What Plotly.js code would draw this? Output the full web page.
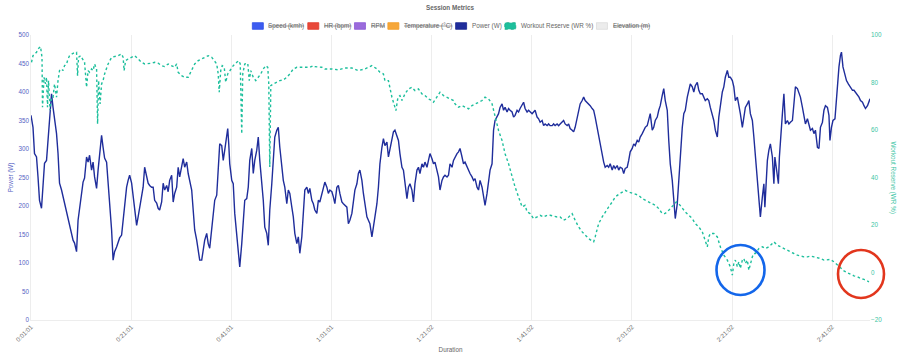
<!DOCTYPE html>
<html>
<head>
<meta charset="utf-8">
<script src="https://cdn.plot.ly/plotly-3.0.1.min.js"></script>
<style>html,body{margin:0;padding:0;background:#fff;}#chart{width:900px;height:357px;}</style>
</head>
<body>
<div id="chart"></div>
<script>
// ---------- DATA ----------
const chartTitle = 'Session Metrics';
const legendLabels = ['Speed (kmh)', 'HR (bpm)', 'RPM', 'Temperature (°C)', 'Power (W)', 'Workout Reserve (WR %)', 'Elevation (m)'];
const legendHidden = [true, true, true, true, false, false, true];
const xTickVals = [1.017, 21.017, 41.017, 61.017, 81.033, 101.033, 121.033, 141.033, 161.033];
const xTickText = ['0:01:01', '0:21:01', '0:41:01', '1:01:01', '1:21:02', '1:41:02', '2:01:02', '2:21:02', '2:41:02'];

// elapsed minutes / watts
const powerTime = [1.0,1.4,1.7,2.1,2.4,2.7,3.1,3.4,3.7,4.1,4.4,4.7,5.1,5.4,5.7,6.1,6.4,6.7,7.1,7.4,7.7,8.1,8.4,8.7,9.1,9.4,9.7,10.1,10.4,10.7,11.1,11.4,11.7,12.1,12.4,12.7,13.1,13.4,13.7,14.1,14.4,14.7,15.1,15.4,15.7,16.1,16.4,16.7,17.1,17.4,17.7,18.1,18.4,18.7,19.1,19.4,19.7,20.1,20.4,20.7,21.1,21.4,21.7,22.1,22.4,22.7,23.1,23.4,23.7,24.1,24.4,24.7,25.1,25.4,25.7,26.1,26.4,26.7,27.1,27.4,27.7,28.1,28.4,28.7,29.1,29.4,29.7,30.1,30.4,30.7,31.1,31.4,31.7,32.1,32.4,32.7,33.1,33.4,33.7,34.1,34.4,34.7,35.1,35.4,35.7,36.1,36.4,36.7,37.1,37.4,37.7,38.1,38.4,38.7,39.1,39.4,39.7,40.1,40.3,40.5,40.7,41.1,41.4,41.7,42.1,42.4,42.7,43.1,43.4,43.7,44.1,44.4,44.7,45.1,45.4,45.7,46.1,46.4,46.7,47.1,47.4,47.7,48.1,48.4,48.7,49.1,49.4,49.7,50.1,50.4,50.7,51.1,51.4,51.7,52.1,52.4,52.7,53.1,53.4,53.7,54.1,54.4,54.7,55.1,55.4,55.7,56.1,56.4,56.7,57.1,57.4,57.7,58.1,58.4,58.7,59.1,59.4,59.7,60.1,60.4,60.7,61.1,61.4,61.7,62.1,62.4,62.7,63.1,63.4,63.7,64.1,64.4,64.7,65.1,65.4,65.7,66.1,66.4,66.7,67.1,67.4,67.7,68.1,68.4,68.7,69.1,69.4,69.7,70.1,70.4,70.7,71.1,71.4,71.7,72.1,72.4,72.7,73.1,73.4,73.7,74.1,74.4,74.7,75.1,75.4,75.7,76.1,76.4,76.7,77.1,77.4,77.7,78.1,78.4,78.7,79.1,79.4,79.7,80.1,80.4,80.7,81.1,81.4,81.7,82.1,82.4,82.7,83.1,83.4,83.7,84.1,84.4,84.7,85.1,85.4,85.7,86.1,86.4,86.7,87.1,87.4,87.7,88.1,88.4,88.7,89.1,89.4,89.7,90.1,90.4,90.7,91.1,91.4,91.7,92.1,92.4,92.7,93.1,93.4,93.7,94.1,94.4,94.7,95.1,95.4,95.7,96.1,96.4,96.7,97.1,97.4,97.7,98.1,98.4,98.7,99.1,99.4,99.7,100.1,100.4,100.7,101.1,101.4,101.7,102.1,102.4,102.7,103.1,103.4,103.7,104.1,104.4,104.7,105.1,105.4,105.7,106.1,106.4,106.7,107.1,107.4,107.7,108.1,108.4,108.7,109.1,109.4,109.7,110.1,110.4,110.7,111.1,111.4,111.7,112.1,112.4,112.7,113.1,113.4,113.7,114.1,114.4,114.7,115.1,115.4,115.7,116.1,116.4,116.7,117.1,117.4,117.7,118.1,118.4,118.7,119.1,119.4,119.7,120.1,120.4,120.7,121.1,121.4,121.7,122.1,122.4,122.7,123.1,123.4,123.7,124.1,124.4,124.7,125.1,125.4,125.7,126.1,126.4,126.7,127.1,127.4,127.7,128.1,128.4,128.7,129.1,129.4,129.7,130.1,130.4,130.7,131.1,131.4,131.7,132.1,132.4,132.7,133.1,133.4,133.7,134.1,134.4,134.7,135.1,135.4,135.7,136.1,136.4,136.7,137.1,137.4,137.7,138.1,138.4,138.7,139.1,139.4,139.7,140.1,140.4,140.7,141.1,141.4,141.7,142.1,142.4,142.7,143.1,143.4,143.7,144.1,144.4,144.7,145.1,145.4,145.6,145.9,146.1,146.4,146.7,147.1,147.4,147.6,147.9,148.1,148.4,148.7,149.1,149.4,149.6,149.9,150.3,150.5,150.8,151.1,151.4,151.7,152.1,152.4,152.7,153.1,153.4,153.7,154.1,154.4,154.7,155.1,155.4,155.7,156.1,156.4,156.7,157.1,157.4,157.7,158.1,158.4,158.7,159.1,159.4,159.7,160.1,160.4,160.6,160.9,161.2,161.6,161.9,162.1,162.4,162.7,162.9,163.2,163.5,163.9,164.3,164.7,165.1,165.4,165.7,166.1,166.4,166.7,167.1,167.4,167.7,168.1,168.4,168.6];
const powerW = [359,338,292,286,251,210,196,228,275,280,321,356,397,373,350,327,292,240,228,216,205,187,175,163,146,140,135,120,175,196,222,242,249,286,277,289,263,277,251,231,263,286,324,303,284,277,245,210,158,105,120,128,137,144,149,175,205,233,245,254,240,216,193,166,181,198,216,233,268,251,240,236,233,233,210,205,196,193,207,240,228,236,225,245,254,207,222,233,268,251,274,283,268,277,257,245,228,193,158,140,123,105,105,128,140,152,134,126,158,181,210,219,274,309,306,280,298,321,336,309,274,245,239,187,146,111,93,134,181,210,213,233,280,301,257,280,298,321,280,245,210,163,152,131,193,239,280,321,333,338,303,263,245,233,204,228,222,198,181,152,134,146,117,146,181,228,233,222,231,210,204,193,187,210,207,222,236,242,233,222,228,225,216,204,233,236,222,207,204,201,198,169,175,187,207,228,239,257,263,245,222,204,181,175,169,146,163,181,204,233,274,303,318,306,312,286,298,315,330,333,321,315,292,268,263,239,213,233,239,228,207,239,263,268,257,274,268,277,268,280,292,283,274,277,263,251,228,245,251,254,251,254,274,268,280,286,292,295,301,286,274,277,268,263,257,251,245,248,233,228,245,233,216,201,222,239,263,274,333,350,356,362,373,379,368,373,365,371,368,365,356,359,368,365,371,376,382,371,365,368,365,362,365,368,356,353,347,350,341,344,341,344,341,341,344,341,344,341,344,347,350,344,341,344,336,333,330,338,356,368,379,385,391,385,382,379,376,371,368,356,338,321,306,289,277,268,271,268,274,263,271,266,271,263,268,266,257,266,268,280,295,301,309,306,315,312,321,327,333,338,341,350,362,333,338,350,356,368,376,394,406,385,368,315,274,245,204,178,204,245,292,338,362,368,391,406,414,409,400,411,417,403,397,397,391,385,388,385,373,362,350,333,321,356,379,400,409,426,438,426,426,420,409,385,391,379,362,338,356,373,379,385,362,350,321,298,263,257,216,181,216,239,198,251,280,298,309,286,239,286,263,239,286,333,362,397,344,350,344,347,350,379,409,406,400,391,373,356,344,353,341,333,336,327,333,303,301,338,347,368,376,373,359,315,338,350,353,391,420,444,464,470,444,432,420,414,409,403,403,400,394,391,385,382,376,371,376,382,388];

// elapsed minutes / workout reserve %
const wrTime = [1.1,1.4,1.7,2.1,2.4,2.9,3.2,3.3,3.6,3.9,4.1,4.3,4.5,4.8,5.1,5.4,5.7,6.1,6.4,6.7,7.1,7.4,7.7,8.1,8.4,8.7,9.4,10.1,10.3,10.5,10.9,11.4,11.7,12.1,12.4,12.7,13.1,13.4,13.7,14.1,14.3,14.5,14.8,15.1,15.4,15.7,16.4,17.1,17.7,18.4,19.1,19.4,19.6,19.9,20.4,21.1,21.7,22.4,23.1,23.7,24.4,25.1,25.7,26.4,27.1,27.7,28.4,29.1,29.7,30.1,30.4,31.1,31.7,32.4,33.1,33.7,34.4,35.1,35.7,36.4,37.1,37.7,38.1,38.4,38.6,38.9,39.2,39.6,39.9,40.3,40.7,41.4,42.1,42.5,42.8,43.1,43.3,43.7,44.3,44.6,44.9,45.4,45.9,46.4,46.9,47.4,47.9,48.3,48.5,48.7,48.9,49.4,50.1,50.7,51.4,52.1,52.7,53.4,54.1,54.7,55.4,56.1,56.7,57.4,57.7,59.1,59.7,61.1,62.4,63.7,65.1,66.4,67.7,69.1,70.1,70.7,71.4,71.7,72.4,73.1,73.4,73.9,74.3,74.7,75.1,75.7,76.4,77.1,77.7,78.4,79.1,79.7,80.4,81.1,81.4,82.1,82.7,83.4,84.1,84.7,85.4,85.7,86.4,87.1,87.7,88.4,89.1,89.7,90.4,91.1,91.7,92.4,93.1,93.7,94.4,95.1,95.7,96.4,97.1,97.7,98.4,99.1,99.7,100.1,100.7,101.4,102.1,102.7,103.4,104.1,104.7,105.4,106.1,106.7,107.4,108.1,108.7,109.1,109.7,110.4,111.1,111.7,112.4,113.1,113.4,113.7,114.1,114.4,115.1,115.7,116.4,117.1,117.7,118.4,119.1,119.7,120.4,121.1,121.7,122.4,123.1,123.7,124.4,125.1,125.7,126.4,127.1,127.6,128.1,128.7,129.4,129.9,130.4,131.1,131.7,132.4,133.1,133.7,134.4,135.1,135.6,136.1,136.4,136.7,137.4,138.1,138.7,139.4,140.1,140.7,141.1,141.4,141.7,142.1,142.4,142.7,143.1,143.4,143.7,144.1,144.4,144.7,145.1,145.4,145.7,146.4,147.1,147.7,148.4,149.1,149.4,150.1,150.7,151.4,152.1,152.7,153.4,154.1,154.7,155.4,156.1,156.7,157.4,158.1,158.7,159.4,160.1,160.7,161.4,162.1,162.7,163.4,164.1,164.7,165.4,166.1,166.7,167.4,168.1,168.4];
const wrPct = [88.5,91.3,92.0,92.7,94.1,95.1,90.6,69.6,82.2,79.4,82.2,69.6,80.8,68.3,73.8,73.8,79.4,73.8,80.8,85.0,85.7,85.0,87.1,87.8,89.9,91.3,92.3,92.7,82.9,90.6,91.3,89.2,88.5,78.0,85.0,84.3,85.7,85.0,87.8,85.7,62.6,80.8,71.0,79.4,80.8,83.6,87.8,90.6,90.9,91.3,92.0,90.6,85.0,89.2,89.9,90.6,91.3,89.9,88.5,87.8,87.8,88.1,88.5,88.1,87.1,86.7,87.8,87.1,86.4,87.8,84.3,82.9,82.2,82.2,85.0,87.8,89.2,89.9,90.6,91.3,90.6,89.2,87.8,83.6,75.9,85.0,87.1,86.4,80.1,83.6,85.0,87.1,88.5,89.2,87.8,58.4,83.6,87.8,88.1,80.8,85.0,82.2,80.8,82.2,83.6,85.7,87.1,86.4,79.4,44.4,78.7,79.4,80.1,80.8,81.1,82.2,83.6,85.7,86.4,86.4,86.1,86.4,86.4,87.1,86.7,86.4,85.7,85.7,85.3,86.1,86.1,85.0,85.7,87.1,85.7,84.3,83.6,80.8,80.8,73.8,71.7,68.2,73.8,74.5,72.4,75.2,77.3,78.0,76.6,77.3,75.2,74.5,73.1,72.4,71.7,73.8,75.9,74.5,73.8,73.1,72.4,71.0,69.6,70.3,69.6,68.9,70.3,71.0,71.7,72.4,73.8,73.1,71.0,65.4,59.8,55.6,50.0,45.8,40.2,36.0,31.8,27.6,28.3,25.5,24.8,22.7,23.4,24.1,23.4,24.1,24.1,23.7,23.4,23.4,22.0,22.7,24.1,24.8,22.0,19.2,17.1,15.7,14.3,13.2,12.9,15.0,17.8,20.6,23.4,25.5,27.6,29.7,31.8,32.9,33.9,34.6,33.9,33.5,33.2,32.5,31.1,30.4,29.7,29.0,28.3,26.9,24.8,24.8,25.5,26.9,28.3,29.7,29.0,26.9,25.5,24.1,22.7,20.6,19.2,17.1,13.6,10.8,15.0,16.4,16.4,15.0,10.8,7.3,5.2,2.4,-1.1,3.8,5.2,2.4,4.5,1.7,5.2,5.9,3.8,5.2,1.0,3.8,6.6,8.0,8.0,10.1,10.8,10.1,10.8,12.2,12.9,11.5,10.8,10.1,9.4,8.7,8.0,7.3,6.9,6.6,6.6,6.9,6.6,6.3,5.9,5.2,5.5,5.5,4.5,3.1,1.7,0.7,-0.1,-0.8,-1.4,-1.8,-2.5,-2.9,-3.5,-3.9];

// ---------- STYLE ----------
const FONT = '"Liberation Sans", Arial, Helvetica, sans-serif';
const FS = 6.3;
const style = {
  legendFill: ['#3d5cf0', '#e8493a', '#9a6bdc', '#f6a73a', '#1f2d9b', '#1dbf9c', '#ececec'],
  legendLine: ['#2f4fe6', '#e03b2c', '#8b5bd6', '#f39c26', '#1a2790', '#15a887', '#dcdcdc'],
  power: '#1f2d9b',
  wr: '#1dbf9c',
  leftTick: '#5563c4',
  rightTick: '#3cc5a4',
  grid: '#e8e8e8',
  text: '#666666'
};

// plot box in page pixels (for overlay placement only)
const PL = 31, PR = 870, PT = 35, PB = 320;
const px2x = p => (p - PL) / (PR - PL);
const px2y = p => (PB - p) / (PB - PT);

// ---------- legend (Chart.js-like, centered) ----------
const cv = document.createElement('canvas').getContext('2d');
cv.font = FS + 'px "Liberation Sans"';
const boxW = 11, boxH = 6.6, boxGap = 3.1, itemPad = 5.3, legendY = 26;
const widths = legendLabels.map(t => boxW + boxGap + cv.measureText(t).width);
const total = widths.reduce((a, b) => a + b, 0) + itemPad * (legendLabels.length - 1);
let cx = 450 - total / 2;
const shapes = [];
const annotations = [];
legendLabels.forEach((lab, i) => {
  shapes.push({
    type: 'rect', xref: 'paper', yref: 'paper',
    x0: px2x(cx), x1: px2x(cx + boxW), y0: px2y(legendY + boxH / 2), y1: px2y(legendY - boxH / 2),
    fillcolor: style.legendFill[i], line: {color: style.legendLine[i], width: 0.8, dash: i === 5 ? 'dot' : 'solid'}
  });
  const f = {family: FONT, size: FS, color: style.text};
  if (legendHidden[i]) f.lineposition = 'through';
  annotations.push({
    xref: 'paper', yref: 'paper', x: px2x(cx + boxW + boxGap), y: px2y(legendY),
    xanchor: 'left', yanchor: 'middle', showarrow: false, text: lab, font: f
  });
  cx += widths[i] + itemPad;
});

// right axis title (reads top to bottom)
annotations.push({
  xref: 'paper', yref: 'paper', x: px2x(893), y: 0.5, textangle: 90, showarrow: false,
  xanchor: 'center', yanchor: 'middle', text: 'Workout Reserve (WR %)',
  font: {family: FONT, size: FS, color: style.rightTick}
});

// highlight circles
shapes.push({type: 'circle', xref: 'paper', yref: 'paper',
  x0: px2x(716.5), x1: px2x(764.5), y0: px2y(295), y1: px2y(245),
  line: {color: '#1366ea', width: 2.6}});
shapes.push({type: 'circle', xref: 'paper', yref: 'paper',
  x0: px2x(838), x1: px2x(884), y0: px2y(298), y1: px2y(250),
  line: {color: '#e2361d', width: 2.6}});

// ---------- traces ----------
const traces = [
  {x: powerTime, y: powerW, type: 'scatter', mode: 'lines', name: 'Power (W)', yaxis: 'y',
   line: {color: style.power, width: 1.4}, showlegend: false, hoverinfo: 'skip'},
  {x: wrTime, y: wrPct, type: 'scatter', mode: 'lines', name: 'Workout Reserve (WR %)', yaxis: 'y2',
   line: {color: style.wr, width: 1.4, dash: '2.6px,2.6px'}, showlegend: false, hoverinfo: 'skip'}
];

const layout = {
  width: 900, height: 357,
  margin: {l: PL, r: 900 - PR, t: PT, b: 357 - PB, pad: 0},
  paper_bgcolor: '#ffffff', plot_bgcolor: '#ffffff',
  showlegend: false,
  font: {family: FONT, size: FS, color: style.text},
  title: {text: '<b>' + chartTitle + '</b>', x: 0.5, xanchor: 'center', y: 1 - 8 / 357, yref: 'container', yanchor: 'middle',
          font: {family: FONT, size: FS, color: style.text}},
  xaxis: {
    range: [1.0, 168.6], tickmode: 'array', tickvals: xTickVals, ticktext: xTickText, tickangle: -45,
    showgrid: true, gridcolor: style.grid, gridwidth: 0.8, zeroline: false,
    showline: true, linecolor: style.grid, linewidth: 0.8, ticks: '', automargin: false,
    tickfont: {family: FONT, size: FS, color: style.text},
    title: {text: 'Duration', font: {family: FONT, size: FS, color: style.text}, standoff: 5}
  },
  yaxis: {
    range: [0, 500], dtick: 50, showgrid: false, zeroline: false,
    showline: true, linecolor: style.grid, linewidth: 0.8, ticks: '', automargin: false,
    tickfont: {family: FONT, size: FS, color: style.leftTick},
    title: {text: 'Power (W)', font: {family: FONT, size: FS, color: style.leftTick}, standoff: 4}
  },
  yaxis2: {
    range: [-20, 100], dtick: 20, overlaying: 'y', side: 'right', showgrid: false, zeroline: false,
    showline: false, ticks: '', automargin: false,
    tickfont: {family: FONT, size: FS, color: style.rightTick}
  },
  shapes: shapes,
  annotations: annotations
};

Plotly.newPlot('chart', traces, layout, {displayModeBar: false, staticPlot: true});
</script>
</body>
</html>
